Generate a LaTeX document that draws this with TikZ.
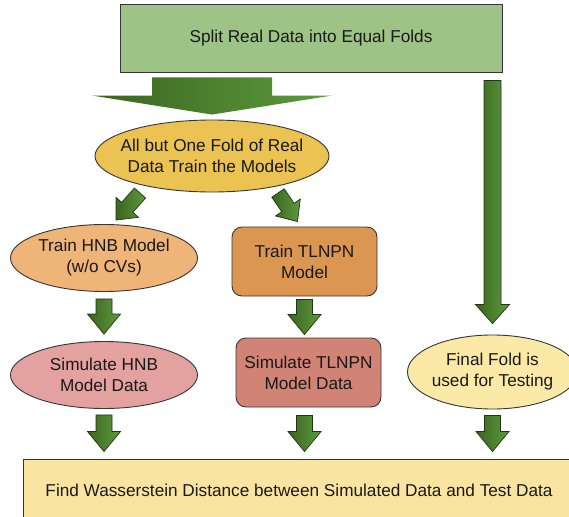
\documentclass[tikz,border=0pt]{standalone}
\usepackage{fontspec}
\setmainfont{Liberation Sans}
\usetikzlibrary{shapes.geometric,calc}

\definecolor{splitgreen}{HTML}{9DC386}
\definecolor{trainyellow}{HTML}{EBC352}
\definecolor{hnborange}{HTML}{EFB478}
\definecolor{tlorange}{HTML}{DB9651}
\definecolor{hnbpink}{HTML}{E3A19F}
\definecolor{tlred}{HTML}{D18475}
\definecolor{testyellow}{HTML}{FBE9A8}
\definecolor{wassyellow}{HTML}{FAE4A1}
\definecolor{arrowdark}{HTML}{3A651F}
\definecolor{arrowlight}{HTML}{5E9B3D}
\definecolor{arrowedge}{HTML}{22331A}
\definecolor{edgegray}{HTML}{353535}

\tikzset{
box/.style={
	  draw=edgegray, line width=0.9pt, inner sep=0pt, align=center,
	    text=black!90, font=\fontsize{17.2}{21}\selectfont},
oval/.style={box, ellipse, inner xsep=-30pt, inner ysep=-10pt},
roundbox/.style={box, rectangle, rounded corners=10pt},
fat arrow/.style={draw=arrowedge, line width=0.7pt, left color=arrowdark, right color=arrowlight},
big arrow/.style={left color=arrowdark, right color=arrowlight}
}
% block arrow: [style]{tail}{tip}{shaft half width}{head half width}{head length}
\newcommand{\fatarrow}[6][fat arrow]{%
	\coordinate (fa-t) at #2;
	\coordinate (fa-p) at #3;
	\coordinate (fa-h) at ($(fa-p)!#6!(fa-t)$);
	\path[#1] ($(fa-t)!#4!90:(fa-p)$) -- ($(fa-h)!#4!90:(fa-p)$) -- ($(fa-h)!#5!90:(fa-p)$) -- (fa-p)
		-- ($(fa-h)!#5!-90:(fa-p)$) -- ($(fa-h)!#4!-90:(fa-p)$) -- ($(fa-t)!#4!-90:(fa-p)$) -- cycle;
}

\begin{document}
\begin{tikzpicture}[x=1pt, y=-1pt]
	\clip (0,0) rectangle (569,516);
	\fill[white] (0,0) rectangle (569,516);

	\node[box, fill=splitgreen, minimum width=382, minimum height=68] (split) at (311,38) {Split Real Data into Equal Folds};
	\node[oval, fill=trainyellow, minimum width=234, minimum height=72] (allbut) at (212,156) {All but One Fold of Real\\Data Train the Models};
	\node[oval, fill=hnborange, minimum width=187, minimum height=67] (trainhnb) at (104,258) {Train HNB Model\\(w/o CVs)};
	\node[roundbox, fill=tlorange, minimum width=145, minimum height=69] (traintl) at (304.5,261.5) {Train TLNPN\\Model};
	\node[oval, fill=hnbpink, minimum width=187, minimum height=67] (simhnb) at (104,375) {Simulate HNB\\Model Data};
	\node[roundbox, fill=tlred, minimum width=145, minimum height=69] (simtl) at (308.5,372.5) {Simulate TLNPN\\Model Data};
	\node[oval, fill=testyellow, minimum width=170, minimum height=74] (final) at (492.5,372) {Final Fold is\\used for Testing};
	\node[box, fill=wassyellow, minimum width=552, minimum height=62] (wass) at (299,490) {Find Wasserstein Distance between Simulated Data and Test Data};

	% arrows between the steps
	\fatarrow[big arrow]{($(split.south -| allbut.north)+(0,5)$)}{($(allbut.north)+(0,-5)$)}{60pt}{120pt}{19pt}
	\fatarrow{($(allbut.center)+(-72,37)$)}{($(trainhnb.north)+(12,-4)$)}{7.5pt}{15pt}{17pt}
	\fatarrow{($(allbut.center)+(66,37)$)}{($(traintl.north)+(-7,-5)$)}{7.5pt}{15pt}{17pt}
	\fatarrow{($(trainhnb.south)+(0,7)$)}{($(simhnb.north)+(0,-7)$)}{8pt}{16.5pt}{20pt}
	\fatarrow{($(traintl.south)+(0,3)$)}{($(traintl.south |- simtl.north)+(0,-3)$)}{8pt}{16.5pt}{20pt}
	\fatarrow{($(split.south -| final.north)+(0,8)$)}{($(final.north)+(0,-11)$)}{8.5pt}{17pt}{19pt}
	\fatarrow{($(simhnb.south)+(0,6)$)}{($(simhnb.south |- wass.north)+(0,-7)$)}{8pt}{16.5pt}{20pt}
	\fatarrow{($(traintl.south |- simtl.south)+(0,8)$)}{($(traintl.south |- wass.north)+(0,-7)$)}{8pt}{16.5pt}{20pt}
	\fatarrow{($(final.south)+(0,6)$)}{($(final.south |- wass.north)+(0,-7)$)}{8pt}{16.5pt}{20pt}
\end{tikzpicture}
\end{document}
